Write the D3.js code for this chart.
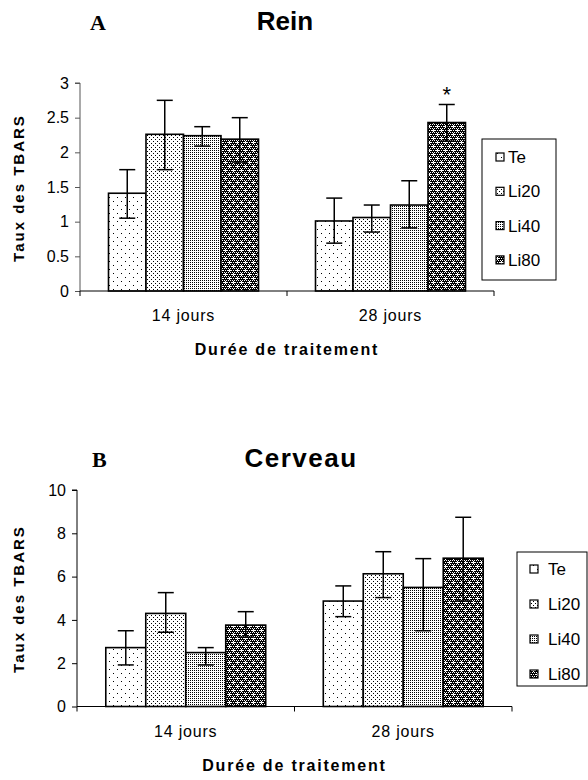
<!DOCTYPE html>
<html>
<head>
<meta charset="utf-8">
<script src="https://cdn.jsdelivr.net/npm/d3@7"></script>
<style>
  body { margin: 0; background: #fff; }
  svg text { font-family: Arial, "Liberation Sans", sans-serif; }
</style>
</head>
<body>
<svg id="chart" width="588" height="780"></svg>
<script>
// Données
const groups = ["14 jours", "28 jours"];
const series = ["Te", "Li20", "Li40", "Li80"];

// A - Rein (moyenne, bas et haut de la barre d'erreur)
const reinMeans = [[1.41, 2.26, 2.24, 2.19], [1.01, 1.06, 1.24, 2.43]];
const reinLow   = [[1.05, 1.75, 2.09, 1.86], [0.69, 0.85, 0.91, 2.16]];
const reinHigh  = [[1.75, 2.75, 2.37, 2.50], [1.34, 1.24, 1.59, 2.69]];
const reinTicks = [0, 0.5, 1, 1.5, 2, 2.5, 3];

// B - Cerveau
const cerveauMeans = [[2.72, 4.30, 2.49, 3.76], [4.87, 6.13, 5.50, 6.85]];
const cerveauLow   = [[1.92, 3.43, 1.92, 3.20], [4.15, 5.03, 3.50, 4.87]];
const cerveauHigh  = [[3.50, 5.26, 2.72, 4.38], [5.57, 7.15, 6.83, 8.74]];
const cerveauTicks = [0, 2, 4, 6, 8, 10];

const svg = d3.select("#chart");

// Motifs de remplissage (trames noir et blanc)
const defs = svg.append("defs");
function makePattern(id, size, bg, dots, fg) {
    const p = defs.append("pattern")
        .attr("id", id)
        .attr("patternUnits", "userSpaceOnUse")
        .attr("width", size).attr("height", size);
    p.append("rect").attr("width", size).attr("height", size).attr("fill", bg);
    dots.forEach(d => {
        p.append("rect").attr("x", d[0]).attr("y", d[1])
            .attr("width", d[2] || 1).attr("height", d[3] || 1)
            .attr("fill", fg);
    });
}
makePattern("pTe", 8, "#fff", [[1, 1], [5, 5]], "#000");
makePattern("pLi20", 4, "#fff", [[1, 1], [3, 3]], "#000");
makePattern("pLi40", 2, "#fff", [[0, 0]], "#000");
// Li80 : trame sombre avec petites croix blanches
(function () {
    const p = defs.append("pattern")
        .attr("id", "pLi80")
        .attr("patternUnits", "userSpaceOnUse")
        .attr("width", 8).attr("height", 8);
    p.append("rect").attr("width", 8).attr("height", 8).attr("fill", "#000");
    for (let i = 0; i < 8; i += 2) {
        for (let j = 0; j < 8; j += 2) {
            p.append("rect").attr("x", i + (j % 4 === 0 ? 0 : 1)).attr("y", j)
                .attr("width", 1).attr("height", 1).attr("fill", "#fff");
        }
    }
    p.append("rect").attr("x", 1).attr("y", 1).attr("width", 1).attr("height", 3).attr("fill", "#fff");
    p.append("rect").attr("x", 0).attr("y", 2).attr("width", 3).attr("height", 1).attr("fill", "#fff");
    p.append("rect").attr("x", 5).attr("y", 5).attr("width", 1).attr("height", 3).attr("fill", "#fff");
    p.append("rect").attr("x", 4).attr("y", 6).attr("width", 3).attr("height", 1).attr("fill", "#fff");
})();
const fills = { Te: "url(#pTe)", Li20: "url(#pLi20)", Li40: "url(#pLi40)", Li80: "url(#pLi80)" };

function drawPanel(cfg) {
    const g = svg.append("g");

    const x = d3.scaleBand().domain(groups).range([cfg.left, cfg.right]);
    const xs = d3.scaleBand().domain(series).range([0, x.bandwidth()]).paddingOuter(cfg.outer);
    const y = d3.scaleLinear().domain([0, cfg.max]).range([cfg.bottom, cfg.top]);

    // Lettre du panneau et titre
    g.append("text")
        .attr("x", cfg.letterX).attr("y", cfg.titleY)
        .style("font-family", "'Liberation Serif', 'Times New Roman', serif")
        .style("font-weight", "bold").style("font-size", "22px")
        .text(cfg.letter);
    g.append("text")
        .attr("x", cfg.titleX).attr("y", cfg.titleY)
        .attr("text-anchor", "middle")
        .style("font-weight", "bold").style("font-size", "26px")
        .style("letter-spacing", cfg.titleSpacing + "px")
        .text(cfg.title);

    // Axe Y
    const yAxis = g.append("g")
        .attr("transform", `translate(${cfg.left},0)`)
        .call(d3.axisLeft(y).tickValues(cfg.ticks).tickSize(5).tickPadding(6).tickFormat(d => String(d)));
    yAxis.selectAll("path, line").attr("stroke", cfg.axisColor);
    yAxis.select(".domain").attr("d", `M-5,${cfg.top}H0V${cfg.bottom}`);
    yAxis.selectAll("text").style("font-size", "16px").attr("fill", "#000")
        .style("font-family", "Arial, 'Liberation Sans', sans-serif");

    // Barres
    groups.forEach((grp, gi) => {
        series.forEach((s, si) => {
            const bx = x(grp) + xs(s);
            const bw = xs.bandwidth();
            g.append("rect")
                .attr("x", bx).attr("y", y(cfg.means[gi][si]))
                .attr("width", bw).attr("height", y(0) - y(cfg.means[gi][si]))
                .attr("fill", fills[s])
                .attr("stroke", "#000").attr("stroke-width", 1.6);
        });
    });

    // Barres d'erreur
    groups.forEach((grp, gi) => {
        series.forEach((s, si) => {
            const cx = x(grp) + xs(s) + xs.bandwidth() / 2;
            const lo = y(cfg.low[gi][si]), hi = y(cfg.high[gi][si]);
            g.append("line").attr("x1", cx).attr("x2", cx).attr("y1", lo).attr("y2", hi)
                .attr("stroke", "#000").attr("stroke-width", 1.5);
            [lo, hi].forEach(v => {
                g.append("line").attr("x1", cx - 8).attr("x2", cx + 8).attr("y1", v).attr("y2", v)
                    .attr("stroke", "#000").attr("stroke-width", 1.5);
            });
        });
    });

    // Axe X : ligne, graduations aux limites des catégories, étiquettes
    g.append("line")
        .attr("x1", cfg.left).attr("x2", cfg.right)
        .attr("y1", y(0)).attr("y2", y(0))
        .attr("stroke", "#000").attr("stroke-width", 1);
    const bounds = groups.map(d => x(d)).concat([x(groups[groups.length - 1]) + x.bandwidth()]);
    bounds.forEach(bx => {
        g.append("line").attr("x1", bx).attr("x2", bx).attr("y1", y(0)).attr("y2", y(0) + 5)
            .attr("stroke", "#000");
    });
    groups.forEach(grp => {
        g.append("text")
            .attr("x", x(grp) + x.bandwidth() / 2).attr("y", y(0) + 30)
            .attr("text-anchor", "middle")
            .style("font-size", "16px").style("letter-spacing", "0.8px")
            .text(grp);
    });
    g.append("text")
        .attr("x", (cfg.left + cfg.right) / 2).attr("y", y(0) + 64)
        .attr("text-anchor", "middle")
        .style("font-size", "16px").style("font-weight", "bold").style("letter-spacing", "1.8px")
        .text("Durée de traitement");

    // Titre de l'axe Y
    g.append("text")
        .attr("transform", `translate(24,${cfg.yLabelY}) rotate(-90)`)
        .attr("text-anchor", "middle")
        .style("font-size", "15px").style("font-weight", "bold").style("letter-spacing", "2px")
        .text("Taux des TBARS");

    // Légende
    const lg = g.append("g");
    lg.append("rect")
        .attr("x", cfg.legend.x).attr("y", cfg.legend.y)
        .attr("width", cfg.legend.w).attr("height", cfg.legend.h)
        .attr("fill", "#fff").attr("stroke", "#000").attr("stroke-width", 1);
    series.forEach((s, i) => {
        const cy = cfg.legend.y + cfg.legend.first + i * cfg.legend.step;
        lg.append("rect")
            .attr("x", cfg.legend.x + cfg.legend.sw).attr("y", cy - 4)
            .attr("width", 8).attr("height", 8)
            .attr("fill", fills[s]).attr("stroke", "#000").attr("stroke-width", 1.2);
        lg.append("text")
            .attr("x", cfg.legend.x + cfg.legend.tx).attr("y", cy + 6)
            .style("font-size", "17px")
            .text(s);
    });

    return { x, xs, y, g };
}

const A = drawPanel({
    letter: "A", letterX: 90, title: "Rein", titleSpacing: 0, titleX: 285, titleY: 30,
    left: 80, right: 494, top: 83, bottom: 291, max: 3, outer: 0.76,
    ticks: reinTicks, means: reinMeans, low: reinLow, high: reinHigh,
    axisColor: "#555", yLabelY: 188,
    legend: { x: 482, y: 139, w: 74, h: 141, first: 18, step: 34.3, sw: 14, tx: 26 }
});

// Astérisque (différence significative) au-dessus de Li80 à 28 jours
A.g.append("text")
    .attr("x", A.x("28 jours") + A.xs("Li80") + A.xs.bandwidth() / 2)
    .attr("y", A.y(reinHigh[1][3]) - 2)
    .attr("text-anchor", "middle")
    .style("font-size", "22px")
    .text("*");

drawPanel({
    letter: "B", letterX: 92, title: "Cerveau", titleSpacing: 1.5, titleX: 301, titleY: 467,
    left: 77, right: 512, top: 490, bottom: 706.5, max: 10, outer: 0.72,
    ticks: cerveauTicks, means: cerveauMeans, low: cerveauLow, high: cerveauHigh,
    axisColor: "#000", yLabelY: 599,
    legend: { x: 517, y: 552, w: 70, h: 134, first: 17, step: 35, sw: 13, tx: 31 }
});
</script>
</body>
</html>
